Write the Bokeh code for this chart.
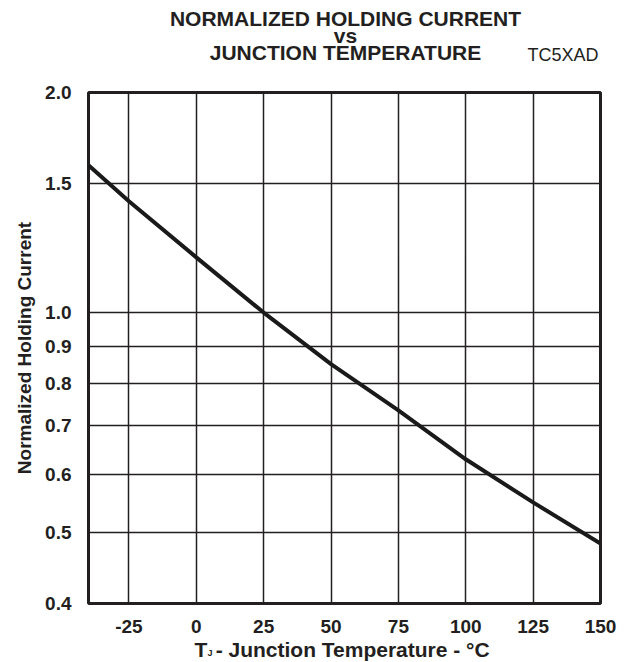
from bokeh.plotting import figure
from bokeh.layouts import column
from bokeh.models import FixedTicker, PrintfTickFormatter, Label, Range1d
from bokeh.embed import file_html
from bokeh.resources import INLINE

# ---- data ----
temperature = [-40, -25, 0, 25, 50, 75, 100, 125, 150]
holding_current = [1.59, 1.42, 1.19, 1.00, 0.85, 0.735, 0.63, 0.55, 0.483]
x_ticks = [-25, 0, 25, 50, 75, 100, 125, 150]
y_ticks = [0.4, 0.5, 0.6, 0.7, 0.8, 0.9, 1.0, 1.5, 2.0]
title_lines = ["NORMALIZED HOLDING CURRENT", "vs", "JUNCTION TEMPERATURE"]
tag_text = "TC5XAD"
y_label = "Normalized Holding Current"
x_label_main = "T"
x_label_sub = "J"
x_label_rest = " - Junction Temperature - \u00b0C"

FONT = "Liberation Sans"
INK = "#231f20"
W = 636
LEFT = 88
RIGHT = 36
HEADER_H = 72
FOOTER_H = 26
MAIN_H = 662 - HEADER_H - FOOTER_H
BASE_FIX = 9  # observed downward shift of alphabetic baselines


def text_panel(h, top):
    # x and y data units equal page pixels inside the panel's frame
    f = figure(width=W, height=h,
               x_range=Range1d(LEFT, W - RIGHT), y_range=Range1d(top + h, top),
               x_axis_location=None, y_axis_location=None, title_location=None,
               output_backend="svg", toolbar_location=None,
               min_border_left=LEFT, min_border_right=RIGHT,
               min_border_top=0, min_border_bottom=0)
    f.outline_line_color = None
    f.grid.visible = False
    f.background_fill_color = "white"
    f.border_fill_color = "white"
    return f


# ---- header with the three title lines and the tag ----
header = text_panel(HEADER_H, 0)
for txt, yy in zip(title_lines, [27, 44, 61]):
    header.add_layout(Label(x=345, y=yy - BASE_FIX, text=txt, text_align="center",
                            text_baseline="alphabetic", text_font=FONT,
                            text_font_style="bold", text_font_size="21px",
                            text_color=INK))
header.add_layout(Label(x=598, y=63 - BASE_FIX, text=tag_text, text_align="right",
                        text_baseline="alphabetic", text_font=FONT,
                        text_font_size="18px", text_color=INK))

# ---- main chart ----
p = figure(width=W, height=MAIN_H, y_axis_type="log",
           x_range=Range1d(-40, 150), y_range=Range1d(0.4, 2.0),
           title_location=None,
           output_backend="svg", toolbar_location=None,
           min_border_left=LEFT, min_border_right=RIGHT,
           min_border_top=20, min_border_bottom=MAIN_H - 20 - 511)

p.background_fill_color = "white"
p.border_fill_color = "white"
p.outline_line_color = INK
p.outline_line_width = 3

p.xaxis.ticker = FixedTicker(ticks=x_ticks)
p.yaxis.ticker = FixedTicker(ticks=y_ticks)
p.xaxis.formatter = PrintfTickFormatter(format="%d")
p.yaxis.formatter = PrintfTickFormatter(format="%.1f")

for ax in (p.xaxis, p.yaxis):
    ax.axis_line_color = None
    ax.major_tick_line_color = None
    ax.minor_tick_line_color = None
    ax.major_label_text_font = FONT
    ax.major_label_text_font_style = "bold"
    ax.major_label_text_font_size = "19px"
    ax.major_label_text_color = INK

p.xaxis.major_label_standoff = 10
p.yaxis.major_label_standoff = 11

p.yaxis.axis_label = y_label
p.yaxis.axis_label_text_font = FONT
p.yaxis.axis_label_text_font_style = "bold"
p.yaxis.axis_label_text_font_size = "19px"
p.yaxis.axis_label_text_color = INK
p.yaxis.axis_label_standoff = 7

p.xgrid.grid_line_color = INK
p.ygrid.grid_line_color = INK
p.xgrid.grid_line_width = 1.5
p.ygrid.grid_line_width = 1.5
p.ygrid.minor_grid_line_color = None

p.line(temperature, holding_current, line_width=4, line_color="#1a1a1a")

# ---- footer with the x-axis title (T with subscript J) ----
footer = text_panel(FOOTER_H, 662 - FOOTER_H)
footer.add_layout(Label(x=194, y=658 - BASE_FIX, text=x_label_main, text_align="left",
                        text_baseline="alphabetic", text_font=FONT,
                        text_font_style="bold", text_font_size="21px",
                        text_color=INK))
footer.add_layout(Label(x=207, y=661 - BASE_FIX, text=x_label_sub, text_align="left",
                        text_baseline="alphabetic", text_font=FONT,
                        text_font_style="bold", text_font_size="9px",
                        text_color=INK))
footer.add_layout(Label(x=495, y=658 - BASE_FIX, text=x_label_rest, text_align="right",
                        text_baseline="alphabetic", text_font=FONT,
                        text_font_style="bold", text_font_size="21px",
                        text_color=INK))

layout = column(header, p, footer, spacing=0)
open("out.html", "w").write(file_html(layout, INLINE))
